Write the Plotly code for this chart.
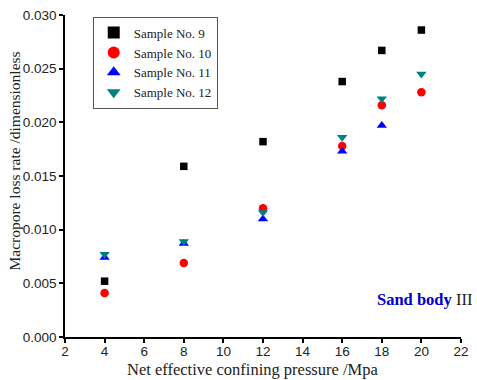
import plotly.graph_objects as go

pressure = [4, 8, 12, 16, 18, 20]
s9 = [0.0052, 0.0159, 0.0182, 0.0238, 0.0267, 0.0286]
s10 = [0.0041, 0.0069, 0.0120, 0.0178, 0.0216, 0.0228]
s11_x = [4, 8, 12, 16, 18]
s11 = [0.0074, 0.0087, 0.0110, 0.0173, 0.0197]
s12 = [0.0077, 0.0089, 0.0116, 0.0186, 0.0222, 0.0245]

serif = "Liberation Serif, Times New Roman, serif"
sans = "Liberation Sans, Arial, sans-serif"

fig = go.Figure()
fig.add_trace(go.Scatter(x=pressure, y=s9, mode="markers", name="Sample No. 9",
                         marker=dict(symbol="square", size=7.5, color="black")))
fig.add_trace(go.Scatter(x=pressure, y=s10, mode="markers", name="Sample No. 10",
                         marker=dict(symbol="circle", size=8.5, color="#ff0000")))
fig.add_trace(go.Scatter(x=s11_x, y=s11, mode="markers", name="Sample No. 11",
                         marker=dict(symbol="triangle-up", size=9, color="#0000ff")))
fig.add_trace(go.Scatter(x=pressure, y=s12, mode="markers", name="Sample No. 12",
                         marker=dict(symbol="triangle-down", size=9, color="#008080")))

fig.update_layout(
    width=477, height=380,
    margin=dict(l=65, r=8, t=14, b=43),
    paper_bgcolor="white", plot_bgcolor="white",
    showlegend=True,
    legend=dict(x=0.07, y=0.995, xanchor="left", yanchor="top",
                bordercolor="#555555", borderwidth=1,
                font=dict(family=serif, size=13, color="#222222"),
                tracegroupgap=0, itemsizing="constant"),
    xaxis=dict(range=[2, 22], tickmode="linear", tick0=2, dtick=2,
               showgrid=False, zeroline=False, showline=True, linecolor="black", linewidth=1.5,
               ticks="outside", ticklen=4, tickwidth=1.5, tickcolor="black",
               ticklabelstandoff=-3,
               tickfont=dict(family=sans, size=13.5, color="#222222")),
    yaxis=dict(range=[0, 0.03], tickmode="linear", tick0=0, dtick=0.005, tickformat=".3f",
               showgrid=False, zeroline=False, showline=True, linecolor="black", linewidth=1.5,
               ticks="outside", ticklen=4, tickwidth=1.5, tickcolor="black",
               tickfont=dict(family=sans, size=13.5, color="#222222")),
)

# axis titles (placed as in the reference, slightly off-centre)
fig.add_annotation(x=0.474, y=-0.1, xref="paper", yref="paper", xanchor="center", yanchor="middle",
                   showarrow=False, text="Net effective confining pressure /Mpa",
                   font=dict(family=serif, size=16.5, color="#222222"))
fig.add_annotation(x=-0.128, y=0.546, xref="paper", yref="paper", xanchor="center", yanchor="middle",
                   showarrow=False, textangle=-90, text="Macropore loss rate /dimensionless",
                   font=dict(family=serif, size=15.5, color="#222222"))

fig.add_annotation(x=1.032, y=0.115, xref="paper", yref="paper", xanchor="right", yanchor="middle",
                   showarrow=False,
                   text="<b><span style='color:#0000cc'>Sand body</span></b> III",
                   font=dict(family=serif, size=16.5, color="#222222"))

fig.write_html("out.html")
